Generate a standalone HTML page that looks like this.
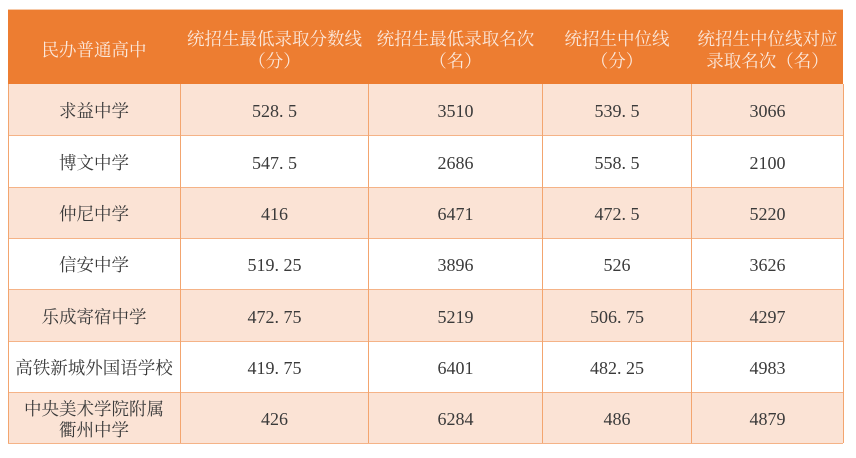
<!DOCTYPE html>
<html><head><meta charset="utf-8">
<style>
html,body{margin:0;padding:0;background:#fff;}
body{width:856px;height:458px;position:relative;overflow:hidden;font-family:"Liberation Serif","Noto Serif CJK SC",serif;}
.c{position:absolute;display:flex;align-items:center;justify-content:center;text-align:center;font-size:17.5px;line-height:21px;color:#3a3a3a;box-sizing:border-box;padding-top:4px;}
.h{color:#fbe8dc;font-family:"Liberation Serif","Noto Serif CJK SC",serif;line-height:22px;padding-top:5px;}
.n{font-family:"Liberation Serif",serif;font-size:18px;padding-top:4px;}
.p{display:inline-block;width:0.5em;text-align:left;}
.hl{position:absolute;height:1px;background:#f5b387;left:8px;width:835px;}
.vl{position:absolute;width:1px;background:#f3a56f;top:84px;height:359px;}
</style></head><body>
<div style="position:absolute;left:8px;top:9px;width:835px;height:1px;background:#f6c9a8"></div>
<div style="position:absolute;left:8px;top:10px;width:835px;height:74px;background:#ed7d31"></div>
<!-- row backgrounds -->
<div style="position:absolute;left:8px;top:84px;width:835px;height:51px;background:#fbe3d5"></div>
<div style="position:absolute;left:8px;top:187px;width:835px;height:51px;background:#fbe3d5"></div>
<div style="position:absolute;left:8px;top:289px;width:835px;height:52px;background:#fbe3d5"></div>
<div style="position:absolute;left:8px;top:392px;width:835px;height:51px;background:#fbe3d5"></div>
<!-- lines -->
<div class="hl" style="top:135px"></div>
<div class="hl" style="top:187px"></div>
<div class="hl" style="top:238px"></div>
<div class="hl" style="top:289px"></div>
<div class="hl" style="top:341px"></div>
<div class="hl" style="top:392px"></div>
<div class="hl" style="top:443px"></div>
<div class="vl" style="left:8px"></div>
<div class="vl" style="left:180px"></div>
<div class="vl" style="left:368px"></div>
<div class="vl" style="left:542px"></div>
<div class="vl" style="left:691px"></div>
<div class="vl" style="left:843px"></div>

<!-- header -->
<div class="c h" style="left:8px;top:10px;width:172px;height:74px;">民办普通高中</div>
<div class="c h" style="left:180px;top:10px;width:189px;height:74px;">统招生最低录取分数线<br>（分）</div>
<div class="c h" style="left:369px;top:10px;width:173px;height:74px;">统招生最低录取名次<br>（名）</div>
<div class="c h" style="left:542px;top:10px;width:150px;height:74px;">统招生中位线<br>（分）</div>
<div class="c h" style="left:692px;top:10px;width:151px;height:74px;">统招生中位线对应<br>录取名次（名）</div>

<!-- rows -->
<div class="c" style="left:8px;top:84px;width:172px;height:51px;">求益中学</div>
<div class="c n" style="left:180px;top:84px;width:189px;height:51px;">528<span class="p">.</span>5</div>
<div class="c n" style="left:369px;top:84px;width:173px;height:51px;">3510</div>
<div class="c n" style="left:542px;top:84px;width:150px;height:51px;">539<span class="p">.</span>5</div>
<div class="c n" style="left:692px;top:84px;width:151px;height:51px;">3066</div>

<div class="c" style="left:8px;top:135px;width:172px;height:52px;">博文中学</div>
<div class="c n" style="left:180px;top:135px;width:189px;height:52px;">547<span class="p">.</span>5</div>
<div class="c n" style="left:369px;top:135px;width:173px;height:52px;">2686</div>
<div class="c n" style="left:542px;top:135px;width:150px;height:52px;">558<span class="p">.</span>5</div>
<div class="c n" style="left:692px;top:135px;width:151px;height:52px;">2100</div>

<div class="c" style="left:8px;top:187px;width:172px;height:51px;">仲尼中学</div>
<div class="c n" style="left:180px;top:187px;width:189px;height:51px;">416</div>
<div class="c n" style="left:369px;top:187px;width:173px;height:51px;">6471</div>
<div class="c n" style="left:542px;top:187px;width:150px;height:51px;">472<span class="p">.</span>5</div>
<div class="c n" style="left:692px;top:187px;width:151px;height:51px;">5220</div>

<div class="c" style="left:8px;top:238px;width:172px;height:51px;">信安中学</div>
<div class="c n" style="left:180px;top:238px;width:189px;height:51px;">519<span class="p">.</span>25</div>
<div class="c n" style="left:369px;top:238px;width:173px;height:51px;">3896</div>
<div class="c n" style="left:542px;top:238px;width:150px;height:51px;">526</div>
<div class="c n" style="left:692px;top:238px;width:151px;height:51px;">3626</div>

<div class="c" style="left:8px;top:289px;width:172px;height:52px;">乐成寄宿中学</div>
<div class="c n" style="left:180px;top:289px;width:189px;height:52px;">472<span class="p">.</span>75</div>
<div class="c n" style="left:369px;top:289px;width:173px;height:52px;">5219</div>
<div class="c n" style="left:542px;top:289px;width:150px;height:52px;">506<span class="p">.</span>75</div>
<div class="c n" style="left:692px;top:289px;width:151px;height:52px;">4297</div>

<div class="c" style="left:8px;top:341px;width:172px;height:51px;">高铁新城外国语学校</div>
<div class="c n" style="left:180px;top:341px;width:189px;height:51px;">419<span class="p">.</span>75</div>
<div class="c n" style="left:369px;top:341px;width:173px;height:51px;">6401</div>
<div class="c n" style="left:542px;top:341px;width:150px;height:51px;">482<span class="p">.</span>25</div>
<div class="c n" style="left:692px;top:341px;width:151px;height:51px;">4983</div>

<div class="c" style="left:8px;top:392px;width:172px;height:51px;">中央美术学院附属<br>衢州中学</div>
<div class="c n" style="left:180px;top:392px;width:189px;height:51px;">426</div>
<div class="c n" style="left:369px;top:392px;width:173px;height:51px;">6284</div>
<div class="c n" style="left:542px;top:392px;width:150px;height:51px;">486</div>
<div class="c n" style="left:692px;top:392px;width:151px;height:51px;">4879</div>
</body></html>
